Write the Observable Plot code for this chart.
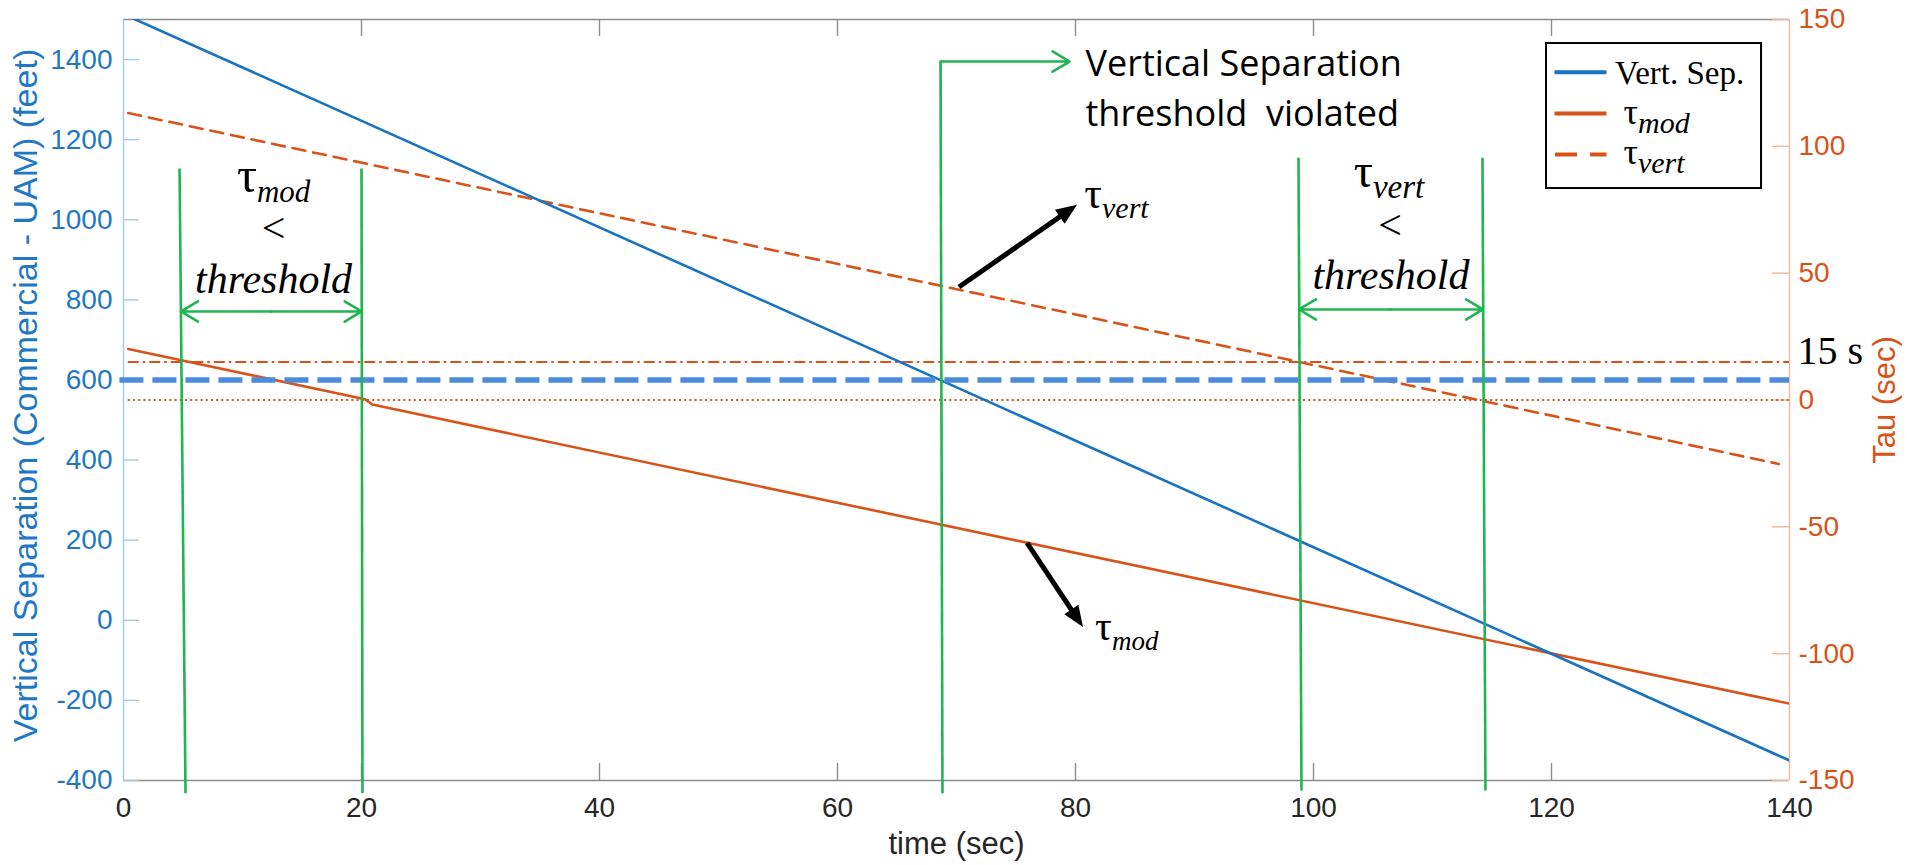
<!DOCTYPE html>
<html>
<head>
<meta charset="utf-8">
<script src="https://cdn.jsdelivr.net/npm/d3@7"></script>
<script src="https://cdn.jsdelivr.net/npm/@observablehq/plot@0.6"></script>
<style>
  html, body { margin: 0; padding: 0; background: #fff; overflow: hidden; }
  #chart svg { display: block; }
</style>
</head>
<body>
<div id="chart"></div>
<script>
// ---------- series ----------
const vertSepTime = [0.4, 140];
const vertSepFeet = [1508, -350];
const tauModTime = [0.4, 20.3, 20.9, 140];
const tauModSec  = [20.1, 0.3, -1.8, -119.7];
const tauVertTime = [0.4, 139.1];
const tauVertSec  = [113.1, -25.2];

// ---------- thresholds ----------
const sepThresholdFeet = 600;
const tauThresholdSec = 15;
const tauZeroSec = 0;

// ---------- axes ----------
const timeDomain = [0, 140];
const feetDomain = [-400, 1500];
const tauDomain = [-150, 150];
const xTicks = [0, 20, 40, 60, 80, 100, 120, 140];
const leftTicks = [-400, -200, 0, 200, 400, 600, 800, 1000, 1200, 1400];
const rightTicks = [-150, -100, -50, 0, 50, 100, 150];

// ---------- text ----------
const xLabel = "time (sec)";
const leftLabel = "Vertical Separation (Commercial - UAM) (feet)";
const rightLabel = "Tau (sec)";
const legendSep = "Vert. Sep.";
const subMod = "mod";
const subVert = "vert";
const tauSym = "\u03C4";
const lessThan = "<";
const thresholdWord = "threshold";
const calloutText = "Vertical Separation\nthreshold\u00A0 violated";
const fifteen = "15 s";

// ---------- annotation geometry (data units: time, feet) ----------
const guideLines = [
  {t1: 4.71, v1: 1128, t2: 5.21, v2: -432},
  {t1: 20.0, v1: 1128, t2: 20.08, v2: -432},
  {t1: 68.66, v1: 1395, t2: 68.82, v2: -432},
  {t1: 98.74, v1: 1155, t2: 98.99, v2: -425},
  {t1: 114.2, v1: 1155, t2: 114.45, v2: -425}
];
const guideArrows = [
  {t1: 68.66, v1: 1395, t2: 79.5, v2: 1395},
  {t1: 12.4, v1: 771, t2: 4.83, v2: 771},
  {t1: 12.4, v1: 771, t2: 20.01, v2: 771},
  {t1: 106.5, v1: 776, t2: 98.78, v2: 776},
  {t1: 106.5, v1: 776, t2: 114.24, v2: 776}
];
const pointers = [
  {t1: 70.25, v1: 831, t2: 80.17, v2: 1036},
  {t1: 75.97, v1: 192, t2: 80.67, v2: -18}
];
// rich text blocks: each block is one <text>, pieces are baseline-anchored
const richBlocks = [
  [ // left:  tau_mod < threshold
    {t: 11.26, v: 1068, s: tauSym, size: 50, anchor: "end"},
    {t: 11.26, v: 1043, s: subMod, size: 31, italic: true, anchor: "start"},
    {t: 12.65, v: 944, s: lessThan, size: 42, anchor: "middle"},
    {t: 12.65, v: 816, s: thresholdWord, size: 42, italic: true, anchor: "middle"}
  ],
  [ // right: tau_vert < threshold
    {t: 105.04, v: 1080, s: tauSym, size: 48, anchor: "end"},
    {t: 105.04, v: 1053, s: subVert, size: 33, italic: true, anchor: "start"},
    {t: 106.47, v: 951, s: lessThan, size: 42, anchor: "middle"},
    {t: 106.55, v: 826, s: thresholdWord, size: 42, italic: true, anchor: "middle"}
  ],
  [ // pointer label tau_vert
    {t: 82.27, v: 1028, s: tauSym, size: 44, anchor: "end"},
    {t: 82.27, v: 1003, s: subVert, size: 30, italic: true, anchor: "start"}
  ],
  [ // pointer label tau_mod
    {t: 83.11, v: -50, s: tauSym, size: 42, anchor: "end"},
    {t: 83.11, v: -75, s: subMod, size: 27, italic: true, anchor: "start"}
  ],
  [ // legend labels
    {t: 125.38, v: 1337.7, s: legendSep, size: 33, anchor: "start"},
    {t: 127.31, v: 1237.8, s: tauSym, size: 36, anchor: "end"},
    {t: 127.31, v: 1215.4, s: subMod, size: 30, italic: true, anchor: "start"},
    {t: 127.31, v: 1138.0, s: tauSym, size: 36, anchor: "end"},
    {t: 127.31, v: 1115.5, s: subVert, size: 30, italic: true, anchor: "start"}
  ]
];

// ---------- colours & fonts ----------
const green = "#1fb552";
const orange = "#d95319";
const blueLine = "#1a72c2";
const blueText = "#1f78c6";
const blueThresh = "#4a8cdb";
const leftAxisColor = "#a3c9ea";
const rightAxisColor = "#f2b79c";
const gray = "#8c8c8c";
const tickText = "#262626";
const sans = "'Liberation Sans', Arial, Helvetica, sans-serif";
const serif = "'Liberation Serif', 'Times New Roman', serif";
const callout = "'Open Sans', 'Noto Sans', sans-serif";

const tauToFeet = d3.scaleLinear().domain(tauDomain).range(feetDomain);

function pointerArrows(index, scales) {
  const g = d3.create("svg:g").attr("fill", "black").attr("stroke", "black");
  for (const a of pointers) {
    const x1 = scales.x(a.t1), y1 = scales.y(a.v1), x2 = scales.x(a.t2), y2 = scales.y(a.v2);
    const ang = Math.atan2(y2 - y1, x2 - x1), L = 21, W = 8.5;
    const bx = x2 - L * Math.cos(ang), by = y2 - L * Math.sin(ang);
    g.append("line")
      .attr("x1", x1).attr("y1", y1)
      .attr("x2", bx + 3 * Math.cos(ang)).attr("y2", by + 3 * Math.sin(ang))
      .attr("stroke-width", 5);
    g.append("path").attr("stroke", "none")
      .attr("d", `M${x2},${y2}L${bx - W * Math.sin(ang)},${by + W * Math.cos(ang)}L${bx + W * Math.sin(ang)},${by - W * Math.cos(ang)}Z`);
  }
  return g.node();
}

function richText(index, scales) {
  const g = d3.create("svg:g").attr("font-family", serif).attr("fill", "black");
  for (const block of richBlocks) {
    const text = g.append("text");
    for (const p of block) {
      text.append("tspan")
        .attr("x", scales.x(p.t))
        .attr("y", scales.y(p.v))
        .attr("text-anchor", p.anchor)
        .attr("font-size", p.size)
        .attr("font-style", p.italic ? "italic" : "normal")
        .text(p.s);
    }
  }
  return g.node();
}

const inner = xTicks.slice(1, -1);

const chart = Plot.plot({
  width: 1907,
  height: 865,
  marginLeft: 123,
  marginRight: 118,
  marginTop: 19,
  marginBottom: 85,
  style: {fontFamily: sans, fontSize: "28px", background: "white", overflow: "visible"},
  x: {domain: timeDomain, axis: null},
  y: {domain: feetDomain, axis: null},
  marks: [
    // box & axes lines
    Plot.ruleY([feetDomain[0], feetDomain[1]], {stroke: gray, strokeWidth: 1.4}),
    Plot.ruleX([timeDomain[0]], {stroke: leftAxisColor, strokeWidth: 1.4}),
    Plot.ruleX([timeDomain[1]], {stroke: rightAxisColor, strokeWidth: 1.4}),
    // inward ticks
    Plot.ruleX(inner, {x: d => d, insetTop: 744, stroke: gray, strokeWidth: 1.4}),
    Plot.ruleX(inner, {x: d => d, insetBottom: 744, stroke: gray, strokeWidth: 1.4}),
    Plot.ruleY(leftTicks, {y: d => d, insetRight: 1650, stroke: leftAxisColor, strokeWidth: 1.4}),
    Plot.ruleY(rightTicks, {y: d => tauToFeet(d), insetLeft: 1649, stroke: rightAxisColor, strokeWidth: 1.4}),
    // tick labels
    Plot.text(xTicks, {x: d => d, frameAnchor: "bottom", text: d => `${d}`, dy: 17, lineAnchor: "top", fill: tickText, fontSize: 28}),
    Plot.text(leftTicks, {y: d => d, frameAnchor: "left", text: d => `${d}`, dx: -11, textAnchor: "end", fill: blueText, fontSize: 28}),
    Plot.text(rightTicks, {y: d => tauToFeet(d), frameAnchor: "right", text: d => `${d}`, dx: 9, textAnchor: "start", fill: orange, fontSize: 28}),
    // axis labels
    Plot.text([xLabel], {frameAnchor: "bottom", dy: 73, lineAnchor: "bottom", textAnchor: "middle", fill: tickText, fontSize: 31}),
    Plot.text([leftLabel], {frameAnchor: "left", dx: -97, dy: -4.5, rotate: -90, textAnchor: "middle", lineAnchor: "middle", fill: blueText, fontSize: 34}),
    Plot.text([rightLabel], {frameAnchor: "right", dx: 96, rotate: -90, textAnchor: "middle", lineAnchor: "middle", fill: orange, fontSize: 31}),

    // threshold lines
    Plot.ruleY([tauThresholdSec], {y: d => tauToFeet(d), x1: 0.4, x2: 140, stroke: orange, strokeWidth: 2, strokeDasharray: "11 4 2.5 4"}),
    Plot.ruleY([tauZeroSec], {y: d => tauToFeet(d), x1: 0.4, x2: 140, stroke: orange, strokeWidth: 2, strokeDasharray: "2 3.2"}),

    // series
    Plot.line(tauVertTime, {x: d => d, y: (d, i) => tauToFeet(tauVertSec[i]), stroke: orange, strokeWidth: 2.6, strokeDasharray: "13 8", clip: true}),
    Plot.line(tauModTime, {x: d => d, y: (d, i) => tauToFeet(tauModSec[i]), stroke: orange, strokeWidth: 2.6, clip: true}),
    Plot.line(vertSepTime, {x: d => d, y: (d, i) => vertSepFeet[i], stroke: blueLine, strokeWidth: 2.6, clip: true}),
    Plot.ruleY([sepThresholdFeet], {x1: -0.3, x2: 140, stroke: blueThresh, strokeWidth: 5.5, strokeDasharray: "24 9"}),

    // green guides
    Plot.link(guideLines, {x1: "t1", y1: "v1", x2: "t2", y2: "v2", stroke: green, strokeWidth: 2.6}),
    Plot.arrow(guideArrows, {x1: "t1", y1: "v1", x2: "t2", y2: "v2", stroke: green, strokeWidth: 2.6, headLength: 11.4, headAngle: 62}),

    // black pointers
    pointerArrows,

    // callout (two lines, anchored on the second baseline)
    Plot.text([calloutText], {x: () => 80.84, y: () => 1235, textAnchor: "start", lineAnchor: "bottom", lineHeight: 1.39, fontSize: 36, fontFamily: callout, fill: "black"}),
    // 15 s
    Plot.text([fifteen], {x: () => 140.67, y: () => 639, textAnchor: "start", lineAnchor: "bottom", fontSize: 40, fontFamily: serif, fill: "black"}),

    // legend box and samples
    Plot.rect([0], {x1: 119.58, x2: 137.65, y1: 1078, y2: 1440, fill: "white", stroke: "black", strokeWidth: 2}),
    Plot.link([0], {x1: 120.25, x2: 124.62, y1: 1368, y2: 1368, stroke: blueLine, strokeWidth: 4}),
    Plot.link([0], {x1: 120.25, x2: 124.62, y1: 1265, y2: 1265, stroke: orange, strokeWidth: 4}),
    Plot.link([0], {x1: 120.3, x2: 124.62, y1: 1163, y2: 1163, stroke: orange, strokeWidth: 4, strokeDasharray: "22 13"}),

    // tau labels, "<", "threshold" and legend labels
    richText
  ]
});

document.getElementById("chart").appendChild(chart);
</script>
</body>
</html>
